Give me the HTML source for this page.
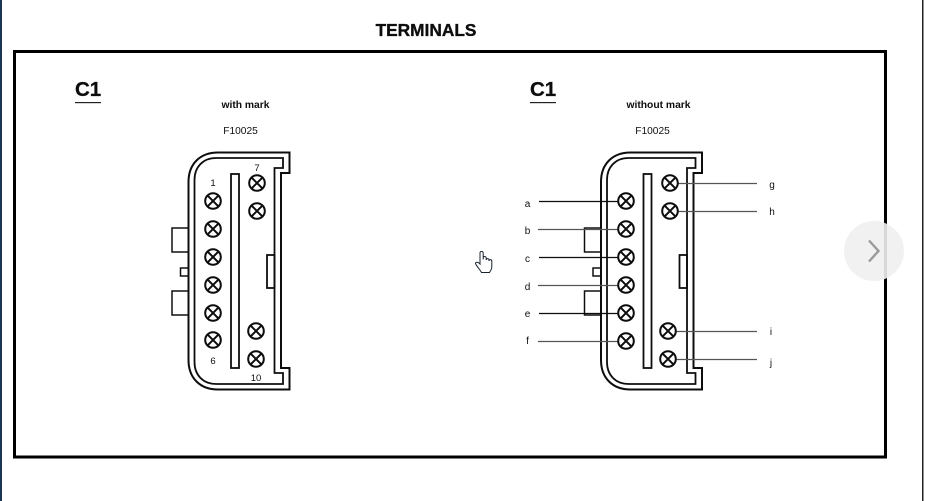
<!DOCTYPE html>
<html>
<head>
<meta charset="utf-8">
<style>
html,body{margin:0;padding:0;background:#fff;width:925px;height:501px;overflow:hidden}
svg{display:block}
text{font-family:"Liberation Sans",sans-serif;fill:#111}
</style>
</head>
<body>
<svg width="925" height="501" viewBox="0 0 925 501" xmlns="http://www.w3.org/2000/svg">
<defs>
<filter id="s" filterUnits="userSpaceOnUse" x="0" y="0" width="925" height="501"><feGaussianBlur stdDeviation="0.35"/></filter>
<g id="t" fill="#fff" stroke="#0c0c0c" stroke-width="2">
<circle r="7.8"/>
<path d="M-5.3-5.3 5.3 5.3M5.3-5.3-5.3 5.3" fill="none"/>
</g>
<g id="body" fill="none" stroke="#111" stroke-width="1.800">
<path d="M289.5 152.5H218C200 152.5 188.5 164 188.500 182V360C188.500 378 200 389.500 218 389.500H289.500V368H281V173H289.500Z" stroke-width="2"/>
<path d="M283 158H216C203 158 194.500 167 194.500 180V362C194.500 375 203 384 216 384H283V373H274.500V168H283Z"/>
<rect x="231" y="174" width="8" height="194"/>
<rect x="267" y="255" width="7.500" height="33"/>
<path d="M188 228H172V252H188M188 291H172V315H188M188 268H180.500V276H188" stroke-width="1.500"/>
</g>
</defs>
<rect x="0" y="0" width="925" height="501" fill="#fff"/>
<rect x="0" y="0" width="2" height="501" fill="#1c3550"/>
<rect x="922" y="0" width="1.500" height="501" fill="#222"/>

<g filter="url(#s)">
<text x="426" y="36" text-anchor="middle" font-size="17.300" font-weight="700" stroke="#111" stroke-width="0.350">TERMINALS</text>
<rect x="14.500" y="51.500" width="871" height="405.500" fill="none" stroke="#000" stroke-width="3"/>

<text x="75" y="96" font-size="20.500" font-weight="700" stroke="#111" stroke-width="0.300">C1</text>
<rect x="75" y="102" width="26" height="1.200" fill="#222"/>
<text x="245.500" y="108" text-anchor="middle" font-size="10.300" font-weight="700">with mark</text>
<text x="240.500" y="134" text-anchor="middle" font-size="10.200">F10025</text>

<use href="#body"/>
<use href="#t" x="213" y="201"/>
<use href="#t" x="213" y="229"/>
<use href="#t" x="213" y="257"/>
<use href="#t" x="213" y="285"/>
<use href="#t" x="213" y="313"/>
<use href="#t" x="213" y="340"/>
<use href="#t" x="257" y="183"/>
<use href="#t" x="257" y="211"/>
<use href="#t" x="256" y="331"/>
<use href="#t" x="256" y="359"/>
<g font-size="9.500" text-anchor="middle">
<text x="213" y="186">1</text>
<text x="213" y="364">6</text>
<text x="257" y="171">7</text>
<text x="256" y="381">10</text>
</g>

<text x="530" y="96" font-size="20.500" font-weight="700" stroke="#111" stroke-width="0.300">C1</text>
<rect x="530" y="102" width="26" height="1.200" fill="#222"/>
<text x="658.500" y="108" text-anchor="middle" font-size="10.300" font-weight="700">without mark</text>
<text x="652.500" y="134" text-anchor="middle" font-size="10.200">F10025</text>

<use href="#body" x="412.500"/>
<g stroke="#111" stroke-width="1.200" fill="none">
<path d="M539 201.500H618M539 257.500H618M539 313.500H618"/>
</g>
<g stroke="#555" stroke-width="1.200" fill="none">
<path d="M538 229.500H618M538 285.500H618M538 341.500H618"/>
<path d="M678 183.500H757M678 211.500H757M676 331.500H757M676 359.500H757"/>
</g>
<use href="#t" x="626" y="201"/>
<use href="#t" x="626" y="229"/>
<use href="#t" x="626" y="257"/>
<use href="#t" x="626" y="285"/>
<use href="#t" x="626" y="313"/>
<use href="#t" x="626" y="341"/>
<use href="#t" x="670" y="183"/>
<use href="#t" x="670" y="211"/>
<use href="#t" x="668" y="331"/>
<use href="#t" x="668" y="359"/>
<g font-size="10" text-anchor="middle">
<text x="527.500" y="207">a</text>
<text x="527.500" y="234">b</text>
<text x="527.500" y="262">c</text>
<text x="527.500" y="290">d</text>
<text x="527.500" y="317">e</text>
<text x="527.500" y="344">f</text>
<text x="772" y="188">g</text>
<text x="772" y="215">h</text>
<text x="771" y="335">i</text>
<text x="771" y="366">j</text>
</g>
</g>

<path d="M480 264V253a1.600 1.600 0 0 1 3.200 0V259.500V258a1.500 1.500 0 0 1 3 0V260a1.400 1.400 0 0 1 2.800 0V261a1.400 1.400 0 0 1 2.800 0V267C491.800 269 490.500 271 489.500 272.500H481.500C480.500 270 477 267 475.500 263.500C475.500 261.500 478.500 262 480 264Z" fill="#fff" stroke="#1a2430" stroke-width="1"/>

<circle cx="874" cy="251" r="30" fill="#efefef" fill-opacity="0.900"/>
<path d="M869 240.500L878.500 251L869 261.500" fill="none" stroke="#9a9a9a" stroke-width="2.400"/>
</svg>
</body>
</html>
